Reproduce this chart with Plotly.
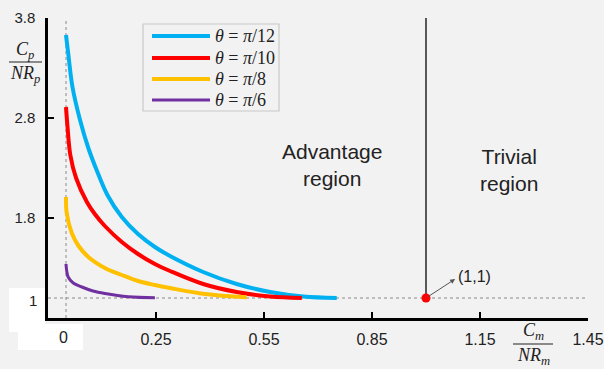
import plotly.graph_objects as go

# ---- data ----
labels = ["θ = π/12", "θ = π/10", "θ = π/8", "θ = π/6"]
legend_html = ["<i>θ</i> = <i>π</i>/12", "<i>θ</i> = <i>π</i>/10", "<i>θ</i> = <i>π</i>/8", "<i>θ</i> = <i>π</i>/6"]
colors = ["#00b0f0", "#ff0000", "#ffc000", "#7030a0"]
widths = [4, 4, 4, 3]

x_pi12 = [0, 0.006, 0.018, 0.039, 0.062, 0.085, 0.115, 0.155, 0.200, 0.247, 0.289, 0.381, 0.474, 0.567, 0.659, 0.752]
y_pi12 = [3.63, 3.45, 3.11, 2.78, 2.50, 2.28, 2.03, 1.81, 1.64, 1.51, 1.42, 1.26, 1.14, 1.06, 1.015, 1.00]

x_pi10 = [0, 0.004, 0.012, 0.028, 0.058, 0.080, 0.108, 0.155, 0.200, 0.247, 0.289, 0.381, 0.474, 0.567, 0.655]
y_pi10 = [2.91, 2.72, 2.43, 2.20, 1.96, 1.84, 1.72, 1.56, 1.44, 1.34, 1.27, 1.14, 1.06, 1.015, 1.00]

x_pi8 = [0, 0.002, 0.016, 0.035, 0.062, 0.108, 0.155, 0.200, 0.247, 0.289, 0.386, 0.502]
y_pi8 = [2.01, 1.85, 1.65, 1.52, 1.41, 1.30, 1.23, 1.17, 1.13, 1.10, 1.04, 1.007]

x_pi6 = [0, 0.002, 0.006, 0.020, 0.044, 0.075, 0.108, 0.173, 0.247]
y_pi6 = [1.34, 1.27, 1.21, 1.15, 1.11, 1.07, 1.045, 1.013, 1.003]

series_x = [x_pi12, x_pi10, x_pi8, x_pi6]
series_y = [y_pi12, y_pi10, y_pi8, y_pi6]

x_ticks = [0.25, 0.55, 0.85, 1.15, 1.45]
y_ticks = [1.8, 2.8, 3.8]
point_x = [1]
point_y = [1]
x_range = [-0.05, 1.45]
y_range = [0.8, 3.8]

# ---- layout geometry (pixels) ----
W, H = 604, 369
L, R, T, B = 48, 16, 18, 51
PW, PH = W - L - R, H - T - B


def px(xp):
    return (xp - L) / PW


def py(yp):
    return (H - B - yp) / PH


BG = "#f2f2f2"
SANS = "Liberation Sans, Arial, sans-serif"
SERIF = "Liberation Serif, Times New Roman, serif"
TXT = "#222222"

fig = go.Figure()
for xs, ys, c, w, lab in zip(series_x, series_y, colors, widths, labels):
    fig.add_trace(go.Scatter(x=xs, y=ys, mode="lines", name=lab,
                             line=dict(color=c, width=w, shape="spline", smoothing=1.0),
                             showlegend=False, hoverinfo="skip"))

fig.add_trace(go.Scatter(x=point_x, y=point_y, mode="markers",
                         marker=dict(color="#ff0000", size=9), showlegend=False))

shapes = []
annotations = []


def note(x, y, text, size, family=SANS, xanchor="center", yanchor="middle", align="center"):
    annotations.append(dict(xref="paper", yref="paper", x=px(x), y=py(y), text=text, showarrow=False,
                            xanchor=xanchor, yanchor=yanchor, align=align,
                            font=dict(family=family, size=size, color=TXT)))


# reference lines
shapes.append(dict(type="line", xref="x", yref="y", x0=0, x1=0, y0=y_range[0], y1=y_range[1],
                   line=dict(color="#8a8a8a", width=1, dash="dot"), layer="below"))
shapes.append(dict(type="line", xref="x", yref="y", x0=x_range[0], x1=x_range[1], y0=1, y1=1,
                   line=dict(color="#8a8a8a", width=1, dash="dot"), layer="below"))
shapes.append(dict(type="line", xref="x", yref="y", x0=1, x1=1, y0=1, y1=y_range[1],
                   line=dict(color="#595959", width=2), layer="below"))

# white patches behind "1" and "0"
shapes.append(dict(type="rect", xref="paper", yref="paper", x0=px(9), x1=px(45), y0=py(332), y1=py(288),
                   fillcolor="white", line=dict(width=0), layer="below"))
shapes.append(dict(type="rect", xref="paper", yref="paper", x0=px(18), x1=px(83), y0=py(350), y1=py(324),
                   fillcolor="white", line=dict(width=0), layer="below"))
note(33, 300, "1", 15)
note(63, 337, "0", 16)

# legend (manual)
shapes.append(dict(type="rect", xref="paper", yref="paper", x0=px(143), x1=px(279), y0=py(111), y1=py(24),
                   fillcolor=BG, line=dict(color="#c8c8c8", width=1.2)))
rows = [36, 58, 79, 100]
for yr, c, w, t in zip(rows, colors, widths, legend_html):
    shapes.append(dict(type="line", xref="paper", yref="paper", x0=px(152), x1=px(210), y0=py(yr), y1=py(yr),
                       line=dict(color=c, width=w)))
    note(213, yr, t, 18, family=SERIF, xanchor="left")

# y-axis fraction label
note(25, 50, "<i>C<sub>p</sub></i>", 18, family=SERIF)
shapes.append(dict(type="line", xref="paper", yref="paper", x0=px(9), x1=px(42), y0=py(62), y1=py(62),
                   line=dict(color=TXT, width=1)))
note(25, 75, "<i>NR<sub>p</sub></i>", 18, family=SERIF)

# x-axis fraction label
note(533, 331, "<i>C<sub>m</sub></i>", 18, family=SERIF)
shapes.append(dict(type="line", xref="paper", yref="paper", x0=px(513), x1=px(553), y0=py(344), y1=py(344),
                   line=dict(color=TXT, width=1)))
note(533, 357, "<i>NR<sub>m</sub></i>", 18, family=SERIF)

# region texts
note(332, 165, "Advantage<br>region", 21)
note(509, 170, "Trivial<br>region", 21)

# (1,1) arrow + label
annotations.append(dict(xref="x", yref="y", x=1.081, y=1.19, axref="x", ayref="y", ax=1.0, ay=1.0,
                        text="", showarrow=True, arrowhead=2, arrowsize=1, arrowwidth=1,
                        arrowcolor="#555", standoff=0, startstandoff=0))
annotations.append(dict(xref="x", yref="y", x=1.083, y=1.22, text="(1,1)", showarrow=False,
                        xanchor="left", yanchor="middle", font=dict(family=SANS, size=16, color=TXT)))

fig.update_layout(
    width=W, height=H,
    margin=dict(l=L, r=R, t=T, b=B, pad=0, autoexpand=False),
    paper_bgcolor=BG, plot_bgcolor=BG,
    shapes=shapes, annotations=annotations,
    showlegend=False,
    xaxis=dict(range=x_range, tickvals=x_ticks, ticktext=[f"{v:g}" for v in x_ticks], automargin=False,
               showgrid=False, zeroline=False, showline=True, linecolor="black", linewidth=2.5,
               ticks="inside", ticklen=6, tickwidth=1.5, tickcolor="black",
               tickfont=dict(family=SANS, size=16, color=TXT), ticklabelstandoff=5),
    yaxis=dict(range=y_range, tickvals=y_ticks, ticktext=[f"{v:g}" for v in y_ticks], automargin=False,
               showgrid=False, zeroline=False, showline=True, linecolor="black", linewidth=2.5,
               ticks="inside", ticklen=6, tickwidth=1.5, tickcolor="black",
               tickfont=dict(family=SANS, size=15, color=TXT), ticklabelstandoff=7),
)

fig.write_html("out.html", config={"displayModeBar": False},
               post_script="document.body.style.margin='0';document.body.style.overflow='hidden';")
